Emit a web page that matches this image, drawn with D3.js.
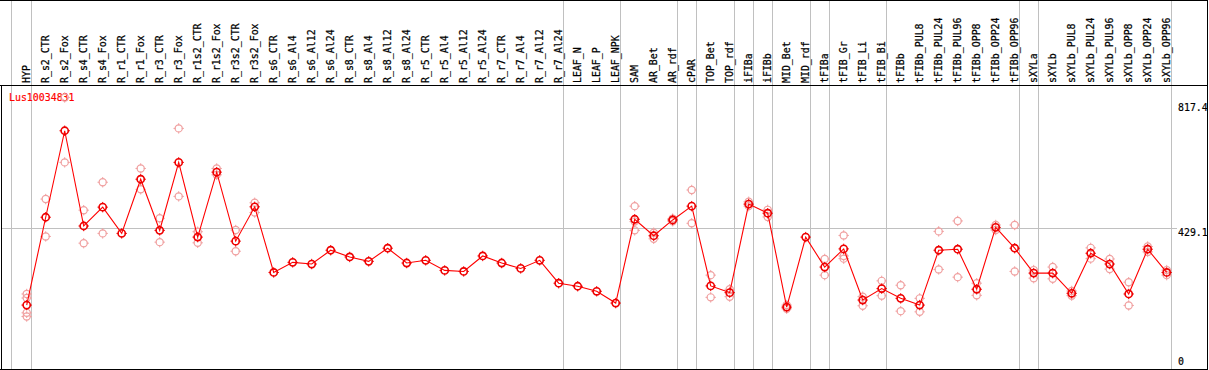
<!DOCTYPE html>
<html><head><meta charset="utf-8">
<script src="https://cdn.jsdelivr.net/npm/d3@7"></script>
<style>body{margin:0;background:#fff}svg{display:block}</style>
</head><body>
<script>
const title = "Lus10034831";
const categories = ["HYP","R_s2_CTR","R_s2_Fox","R_s4_CTR","R_s4_Fox","R_r1_CTR","R_r1_Fox","R_r3_CTR","R_r3_Fox","R_r1s2_CTR","R_r1s2_Fox","R_r3s2_CTR","R_r3s2_Fox","R_s6_CTR","R_s6_Al4","R_s6_Al12","R_s6_Al24","R_s8_CTR","R_s8_Al4","R_s8_Al12","R_s8_Al24","R_r5_CTR","R_r5_Al4","R_r5_Al12","R_r5_Al24","R_r7_CTR","R_r7_Al4","R_r7_Al12","R_r7_Al24","LEAF_N","LEAF_P","LEAF_NPK","SAM","AR_Bet","AR_rdf","cPAR","TOP_Bet","TOP_rdf","iFIBa","iFIBb","MID_Bet","MID_rdf","tFIBa","tFIB_Gr","tFIB_Li","tFIB_Bi","tFIBb","tFIBb_PUL8","tFIBb_PUL24","tFIBb_PUL96","tFIBb_OPP8","tFIBb_OPP24","tFIBb_OPP96","sXYLa","sXYLb","sXYLb_PUL8","sXYLb_PUL24","sXYLb_PUL96","sXYLb_OPP8","sXYLb_OPP24","sXYLb_OPP96"];
const means = [200,461,718,435,491,413,574,422,624,402,595,390,492,297,327,322,363,343,330,369,325,333,303,300,346,325,309,333,265,256,241,206,455,406,453,494,257,237,500,473,194,402,313,367,215,249,220,200,363,366,247,431,369,295,295,235,354,322,233,366,297];
const repA = [233,515,817,482,565,null,606,458,725,418,606,423,504,null,null,null,null,null,null,null,null,null,null,null,null,null,null,null,null,null,null,null,494,415,457,542,289,247,507,483,200,null,337,407,225,272,259,220,419,450,265,438,438,304,313,242,370,337,268,374,304];
const repB = [221,404,624,384,413,null,544,387,523,385,587,360,475,null,null,null,null,null,null,null,null,null,null,null,null,null,null,null,null,null,null,null,422,397,449,443,223,225,494,462,189,null,289,346,198,228,182,180,306,283,229,423,300,280,278,228,338,307,199,358,289];
const repC = [177,null,null,null,null,null,null,null,null,null,null,null,null,null,null,null,null,null,null,null,null,null,null,null,null,null,null,null,null,null,null,null,448,null,null,null,null,null,null,null,null,null,null,338,null,null,null,null,null,null,null,null,null,null,null,null,null,null,null,null,null];
const repD = [166,null,null,null,null,null,null,null,null,null,null,null,null,null,null,null,null,null,null,null,null,null,null,null,null,null,null,null,null,null,null,null,null,null,null,null,null,null,null,null,null,null,null,null,null,null,null,null,null,null,null,null,null,null,null,null,null,null,null,null,null];
const yTicks = [817.4, 429.1, 0];
const groupEnds = ["HYP","R_r7_Al24","LEAF_NPK","AR_rdf","cPAR","TOP_rdf","iFIBa","iFIBb","MID_rdf","tFIBa","tFIB_Bi","tFIBb_OPP96","sXYLa","sXYLb_OPP96"];

const W = 1209, H = 370;
const svg = d3.select("body").append("svg").attr("width", W).attr("height", H);
const x = d3.scalePoint().domain(categories).range([26.7, 1166.7]);
const step = x.step();
const y = d3.scaleLinear().domain([0, 817.4]).range([372.4, 97.3]);
const FONT = "'DejaVu Sans Mono', monospace";
const off = 3.8;

// vertical grid lines
const gx = [x(categories[0]) - step + off - 0.8].concat(groupEnds.map(c => x(c) + off));
svg.append("g").selectAll("line").data(gx).join("line")
  .attr("x1", d => Math.round(d) + 0.5).attr("x2", d => Math.round(d) + 0.5)
  .attr("y1", 0).attr("y2", 369).attr("stroke", "#c0c0c0").attr("stroke-width", 1);

// horizontal grid line at middle tick
svg.append("line").attr("x1", 1).attr("x2", 1177)
  .attr("y1", Math.round(y(yTicks[1])) + 0.5).attr("y2", Math.round(y(yTicks[1])) + 0.5)
  .attr("stroke", "#c0c0c0");

// frame
svg.append("line").attr("x1", 0).attr("x2", 1208).attr("y1", 0.5).attr("y2", 0.5).attr("stroke", "#000");
svg.append("line").attr("x1", 0).attr("x2", 1208).attr("y1", 85.5).attr("y2", 85.5).attr("stroke", "#000");
svg.append("line").attr("x1", 0).attr("x2", 1208).attr("y1", 369.5).attr("y2", 369.5).attr("stroke", "#000");
svg.append("line").attr("x1", 1.5).attr("x2", 1.5).attr("y1", 85).attr("y2", 370).attr("stroke", "#000");
svg.append("line").attr("x1", 1207.5).attr("x2", 1207.5).attr("y1", 0).attr("y2", 370).attr("stroke", "#000");

// column labels
svg.append("g").selectAll("text").data(categories).join("text")
  .attr("transform", d => `translate(${Math.round(x(d) + 3)},83) rotate(-90) scale(0.9,1)`)
  .attr("font-family", FONT).attr("font-size", 11).attr("fill", "#000")
  .attr("stroke", "#000").attr("stroke-width", 0.25)
  .text(d => d);

// y labels
const yOff = [13.7, 8, -7];
svg.append("g").selectAll("text").data(yTicks).join("text")
  .attr("transform", (d, i) => `translate(1178,${Math.round(y(d) + yOff[i])}) scale(0.9,1)`)
  .attr("font-family", FONT).attr("font-size", 11).attr("fill", "#000")
  .attr("stroke", "#000").attr("stroke-width", 0.2)
  .text(d => d === 0 ? "0" : d.toFixed(1));

// title
svg.append("text").attr("transform", "translate(9,101) scale(0.9,1)")
  .attr("font-family", FONT).attr("font-size", 11).attr("fill", "#ff0000")
  .attr("stroke", "#ff0000").attr("stroke-width", 0.2).text(title);

function marker(g, cx, cy, color, sw) {
  g.append("circle").attr("cx", cx).attr("cy", cy).attr("r", 3.6)
    .attr("fill", "none").attr("stroke", color).attr("stroke-width", sw);
  const t = [[0,-1],[0,1],[-1,0],[1,0]];
  t.forEach(([dx, dy]) => g.append("line")
    .attr("x1", cx + dx * 3).attr("y1", cy + dy * 3)
    .attr("x2", cx + dx * 5.2).attr("y2", cy + dy * 5.2)
    .attr("stroke", color).attr("stroke-width", 1));
}

// replicates
const gr = svg.append("g");
[repA, repB, repC, repD].forEach(arr => {
  arr.forEach((v, i) => { if (v != null) marker(gr, x(categories[i]), y(v), "#f0a0a0", 1.2); });
});

// mean line
const line = d3.line().x((d, i) => x(categories[i])).y(d => y(d));
svg.append("path").attr("d", line(means)).attr("fill", "none").attr("stroke", "#ff0000").attr("stroke-width", 1.1);

// mean markers
const gm = svg.append("g");
means.forEach((v, i) => marker(gm, x(categories[i]), y(v), "#ee0000", 1.6));
</script>
</body></html>
